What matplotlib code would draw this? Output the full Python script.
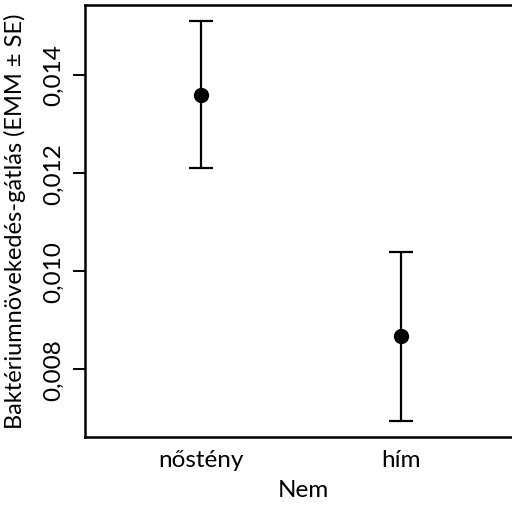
import matplotlib
matplotlib.use("Agg")
import matplotlib.pyplot as plt
from matplotlib.ticker import FuncFormatter

plt.rcParams['font.family'] = ['Lato', 'DejaVu Sans']

categories = ["nőstény", "hím"]
emm = [0.01359, 0.00868]
se = [0.00150, 0.00172]
yticks = [0.008, 0.010, 0.012, 0.014]

W, H = 512, 510
fig = plt.figure(figsize=(W / 100, H / 100), dpi=100)
left, right, top, bottom = 85, 521, 5.5, 438
ax = fig.add_axes([left / W, 1 - bottom / H, (right - left) / W, (bottom - top) / H])

x = [1, 2]
ax.errorbar(x, emm, yerr=se, fmt='o', color='black', ecolor='black',
            markersize=10, elinewidth=1.6, capsize=8.5, capthick=1.6)

ax.set_xlim(0.42, 2.6)
ax.set_ylim(0.006627, 0.015424)
ax.set_xticks(x)
ax.set_xticklabels(categories, fontsize=17.5)
ax.set_yticks(yticks)
ax.yaxis.set_major_formatter(FuncFormatter(lambda v, p: f"{v:.3f}".replace('.', ',')))
ax.tick_params(axis='y', labelsize=17.5, length=9, width=1.4, pad=6)
ax.tick_params(axis='x', length=0, pad=9)
for lab in ax.get_yticklabels():
    lab.set_rotation(90)
    lab.set_va('center')

for s in ['left', 'bottom', 'top', 'right']:
    ax.spines[s].set_linewidth(1.8)

ax.set_xlabel("Nem", fontsize=17.5, labelpad=6)
ax.set_ylabel("Baktériumnövekedés-gátlás (EMM ± SE)", fontsize=17)
ax.yaxis.set_label_coords((26 - left) / (right - left), 0.5)

fig.savefig("out.png", dpi=100)
